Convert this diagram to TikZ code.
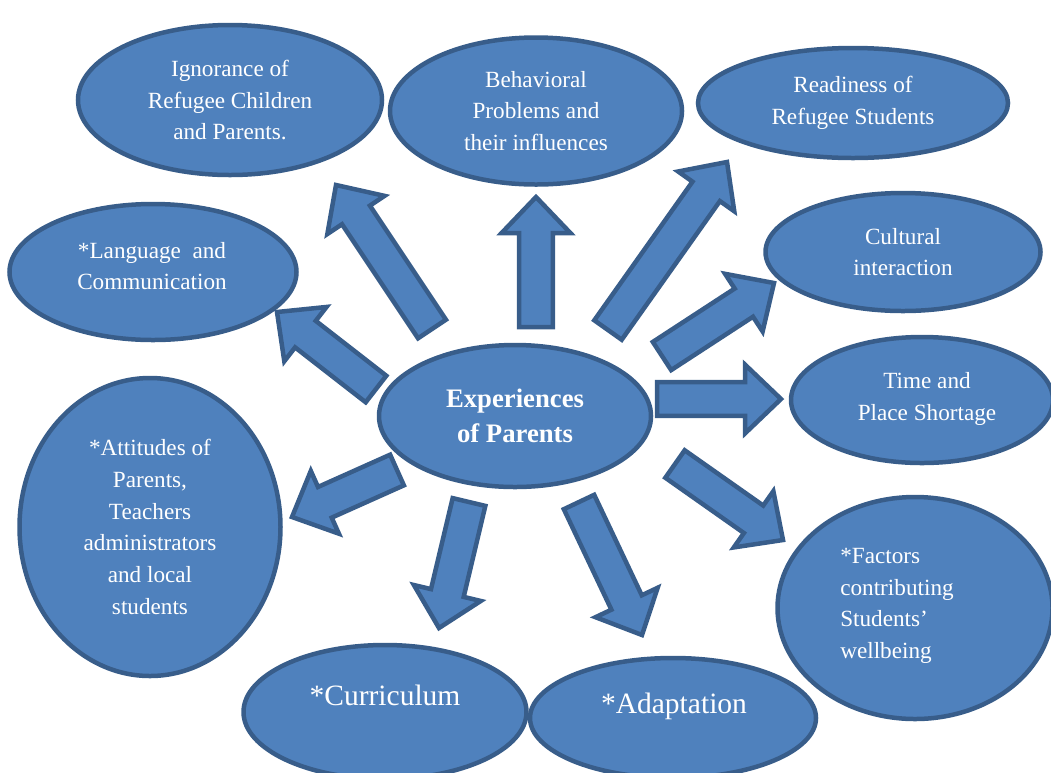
\documentclass[tikz,border=0pt]{standalone}
\usepackage{fontspec}
\setmainfont{Liberation Serif}
\usetikzlibrary{calc}
\usetikzlibrary{shapes.geometric}
\definecolor{bubblefill}{RGB}{79,129,189}
\definecolor{bubbleline}{RGB}{56,93,138}
\tikzset{
  bubble/.style={ellipse, draw=bubbleline, fill=bubblefill, line width=3.2pt,
    inner sep=0pt, text=white, align=center,
    font=\fontsize{16.5}{22.5}\selectfont},
  bubbletext/.style={text=white, inner sep=0pt, align=center,
    font=\fontsize{16.5}{22.5}\selectfont},
  bigtext/.style={bubbletext, font=\fontsize{21}{25}\selectfont},
  barrow/.style={draw=bubbleline, fill=bubblefill, line width=3.2pt, line join=miter}
}
% block arrow from tail #1 to tip #2
\newcommand{\blockarrow}[2]{%
  \coordinate (hbase) at ($(#2)!0.9cm!(#1)$);
  \draw[barrow] ($(#1)!0.42cm!90:(#2)$) -- ($(hbase)!0.42cm!90:(#2)$)
    -- ($(hbase)!0.86cm!90:(#2)$) -- (#2) -- ($(hbase)!0.86cm!-90:(#2)$)
    -- ($(hbase)!0.42cm!-90:(#2)$) -- ($(#1)!0.42cm!-90:(#2)$) -- cycle;
}
\begin{document}
\begin{tikzpicture}
				\useasboundingbox (0,0) rectangle (26.275,-19.3);
				
				% centre
				\node[bubble, minimum width=6.8cm, minimum height=3.55cm,
				  font=\fontsize{19}{25}\selectfont\bfseries] (exp) at (12.875,-10.4)
				  {Experiences\\of Parents};
				
				% outer bubbles
				\node[bubble, minimum width=7.6cm, minimum height=3.75cm] (ign) at (5.75,-2.5)
				  {Ignorance of\\Refugee Children\\and Parents.};
				\node[bubble, minimum width=7.3cm, minimum height=3.675cm] (beh) at (13.4,-2.775)
				  {Behavioral\\Problems and\\their influences};
				\node[bubble, minimum width=7.75cm, minimum height=2.75cm] (rea) at (21.325,-2.575)
				  {Readiness of\\Refugee Students};
				\node[bubble, minimum width=7.175cm, minimum height=3.4cm] (lan) at (3.825,-6.8) {};
				\node[bubble, minimum width=6.875cm, minimum height=2.95cm] (cul) at (22.575,-6.3)
				  {Cultural\\interaction};
				\node[bubble, minimum width=6.55cm, minimum height=3.15cm] (tim) at (23.05,-10.0) {};
				\node[bubble, minimum width=6.525cm, minimum height=7.45cm] (att) at (3.75,-13.175)
				  {*Attitudes of\\Parents,\\Teachers\\administrators\\and local\\students};
				\node[bubble, minimum width=6.875cm, minimum height=5.55cm] (fac) at (22.875,-15.2) {};
				\node[bubble, minimum width=7.075cm, minimum height=3.35cm] (cur) at (9.625,-17.8) {};
				\node[bubble, minimum width=7.15cm, minimum height=3.0cm] (ada) at (16.825,-17.95) {};
				
				% texts set off centre
				\node[bubbletext] (lanT) at (3.8,-6.65) {*Language~ and\\Communication};
				\node[bubbletext] (timT) at (23.175,-9.975) {Time and\\Place Shortage};
				\node[bubbletext, align=left, anchor=west] (facT) at (21.0,-15.15)
				  {*Factors\\contributing\\Students’\\wellbeing};
				\node[bigtext] (curT) at (9.625,-17.375) {*Curriculum};
				\node[bigtext] (adaT) at (16.85,-17.65) {*Adaptation};
				
				% arrow ends
				\coordinate (tBeh) at (13.4,-8.175);   \coordinate (hBeh) at (13.4,-4.925);
				\coordinate (tIgn) at (10.8,-8.225);   \coordinate (hIgn) at (8.4,-4.625);
				\coordinate (tRea) at (15.2,-8.25);    \coordinate (hRea) at (18.175,-4.05);
				\coordinate (tLan) at (9.4,-9.725);    \coordinate (hLan) at (6.925,-7.8);
				\coordinate (tCul) at (16.55,-8.9);    \coordinate (hCul) at (19.35,-7.075);
				\coordinate (tTim) at (16.425,-9.975); \coordinate (hTim) at (19.525,-9.975);
				\coordinate (tFac) at (16.875,-11.6);  \coordinate (hFac) at (19.575,-13.5);
				\coordinate (tAda) at (14.475,-12.55); \coordinate (hAda) at (16.05,-15.875);
				\coordinate (tCur) at (11.725,-12.55); \coordinate (hCur) at (10.975,-15.7);
				\coordinate (tAtt) at (9.925,-11.75);  \coordinate (hAtt) at (7.3,-12.925);
				
				% block arrows
				\foreach \n in {Beh,Ign,Rea,Lan,Cul,Tim,Fac,Ada,Cur,Att}
				  \blockarrow{t\n}{h\n};
				
				\end{tikzpicture}
\end{document}
